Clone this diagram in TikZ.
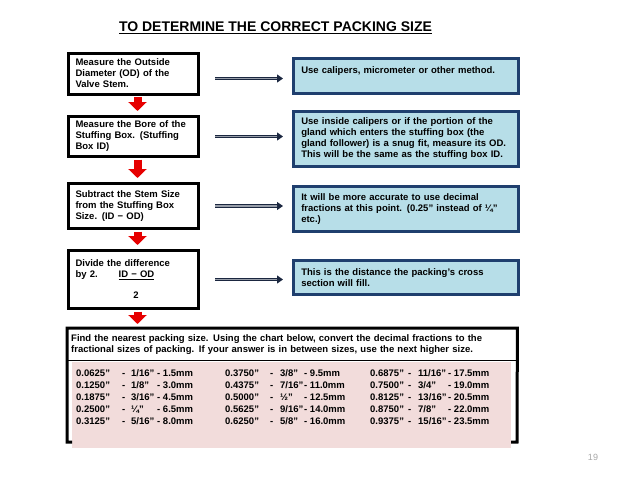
\documentclass[tikz,border=0pt]{standalone}
\usepackage{fontspec}
\setmainfont{Liberation Sans}
\usetikzlibrary{arrows.meta}

\definecolor{infofill}{HTML}{B7DEE8}
\definecolor{infoline}{HTML}{1F3F6E}
\definecolor{chartpink}{HTML}{F2DCDB}
\definecolor{navyarrow}{HTML}{1B2740}
\definecolor{stepred}{HTML}{E60000}

\begin{document}
\begin{tikzpicture}[
  x=1pt,y=-1pt,
  font=\fontsize{9.5}{11}\selectfont\bfseries,
  stepbox/.style={draw,line width=3pt,anchor=north west,minimum width=130pt,text width=116pt,align=left,inner xsep=7pt,inner ysep=3pt},
  infobox/.style={draw=infoline,fill=infofill,line width=2.6pt,anchor=north west,minimum width=225pt,text width=209pt,align=left,inner xsep=8pt,inner ysep=3pt},
  nextstep/.style={stepred,line width=8pt,shorten <=1.5pt,shorten >=4pt,-{Triangle[width=18pt,length=9pt]}},
  toinfo/.style={draw=navyarrow,double=navyarrow!45!white,line width=1.1pt,double distance=1.3pt,-{Triangle[width=8pt,length=6pt]}},
  sizes/.style={anchor=north west,inner sep=0pt,font=\fontsize{9.5}{12}\selectfont\bfseries}
]
  \useasboundingbox (0,0) rectangle (638,479);

  \node[anchor=base,font=\fontsize{14}{16}\selectfont\bfseries] (title) at (275.5,31.7)
    {\underline{TO DETERMINE THE CORRECT PACKING SIZE}};

  \node[stepbox,minimum height=41pt] (l1) at (67,51.5)
    {Measure the Outside\\ Diameter (OD) of the\\ Valve Stem.};
  \node[stepbox,minimum height=40pt] (l2) at (67,115)
    {Measure the Bore of the\\ Stuffing Box. (Stuffing\\ Box ID)};
  \node[stepbox,minimum height=45pt] (l3) at (67,182)
    {Subtract the Stem Size\\ from the Stuffing Box\\ Size. (ID − OD)};
  \node[stepbox,minimum height=58pt] (l4) at (67,249)
    {Divide the difference\\ by 2.\hspace{21pt}\underline{ID − OD}\\[10pt]
     \hphantom{by 2.\hspace{21pt}ID }\hspace{2pt}2};

  \node[infobox,minimum height=35pt] (r1) at (292,57)
    {Use calipers, micrometer or other method.\\ \mbox{}};
  \node[infobox,minimum height=55pt] (r2) at (292,110)
    {Use inside calipers or if the portion of the\\ gland which enters the stuffing box (the\\
     gland follower) is a snug fit, measure its OD.\\ This will be the same as the stuffing box ID.};
  \node[infobox,minimum height=45pt] (r3) at (292,185)
    {It will be more accurate to use decimal\\ fractions at this point. (0.25” instead of ¼”\\ etc.)};
  \node[infobox,minimum height=34pt] (r4) at (292,259)
    {This is the distance the packing’s cross\\ section will fill.};

  \node[anchor=north west,minimum width=450pt,minimum height=32pt,text width=442pt,align=left,inner xsep=4pt,inner ysep=2pt] (find) at (67,328)
    {Find the nearest packing size. Using the chart below, convert the decimal fractions to the\\
     fractional sizes of packing. If your answer is in between sizes, use the next higher size.};
  \node[anchor=north west,fill=chartpink,minimum width=439pt,minimum height=86pt,inner sep=0pt] (chart) at (72,362) {};
  \coordinate (frameSW) at (67,442);
  \coordinate (frameSE) at (517,442);
  \draw[line width=3pt] ([xshift=5pt]frameSW) -- (frameSW) -- (find.north west)
    -- (find.north east) -- (frameSE) -- ([xshift=-6pt]frameSE);
  \draw[line width=1.2pt] (find.south west) -- (find.south east);

  \node[sizes] (t1) at (76,368) {\begin{tabular}{@{}p{46pt}@{}p{9pt}@{}p{26pt}@{}l@{}}
    0.0625” & - & 1/16” & - 1.5mm\\
    0.1250” & - & 1/8”  & - 3.0mm\\
    0.1875” & - & 3/16” & - 4.5mm\\
    0.2500” & - & ¼”    & - 6.5mm\\
    0.3125” & - & 5/16” & - 8.0mm
  \end{tabular}};
  \node[sizes] (t2) at (225,368) {\begin{tabular}{@{}p{45pt}@{}p{10pt}@{}p{24pt}@{}l@{}}
    0.3750” & - & 3/8”  & - 9.5mm\\
    0.4375” & - & 7/16” & - 11.0mm\\
    0.5000” & - & ½”    & - 12.5mm\\
    0.5625” & - & 9/16” & - 14.0mm\\
    0.6250” & - & 5/8”  & - 16.0mm
  \end{tabular}};
  \node[sizes] (t3) at (370,368) {\begin{tabular}{@{}p{38pt}@{}p{10pt}@{}p{30pt}@{}l@{}}
    0.6875” & - & 11/16” & - 17.5mm\\
    0.7500” & - & 3/4”   & - 19.0mm\\
    0.8125” & - & 13/16” & - 20.5mm\\
    0.8750” & - & 7/8”   & - 22.0mm\\
    0.9375” & - & 15/16” & - 23.5mm
  \end{tabular}};

  \draw[nextstep] ([xshift=4pt]l1.south) -- ([xshift=4pt]l2.north);
  \draw[nextstep] ([xshift=4pt]l2.south) -- ([xshift=4pt]l3.north);
  \draw[nextstep] ([xshift=4pt]l3.south) -- ([xshift=4pt]l4.north);
  \draw[nextstep] ([xshift=4pt]l4.south) -- ([xshift=4pt]l4.south |- find.north);

  \draw[toinfo] ([xshift=15pt,yshift=-5pt]l1.east) -- ([xshift=-9pt,yshift=-5pt]l1.east -| r1.west);
  \draw[toinfo] ([xshift=15pt]l2.east) -- ([xshift=-9pt]l2.east -| r2.west);
  \draw[toinfo] ([xshift=15pt]l3.east) -- ([xshift=-9pt]l3.east -| r3.west);
  \draw[toinfo] ([xshift=15pt]l4.east) -- ([xshift=-9pt]l4.east -| r4.west);

  \node[font=\fontsize{9}{10}\selectfont,text=gray!70] (page) at (593,457) {19};
\end{tikzpicture}
\end{document}
